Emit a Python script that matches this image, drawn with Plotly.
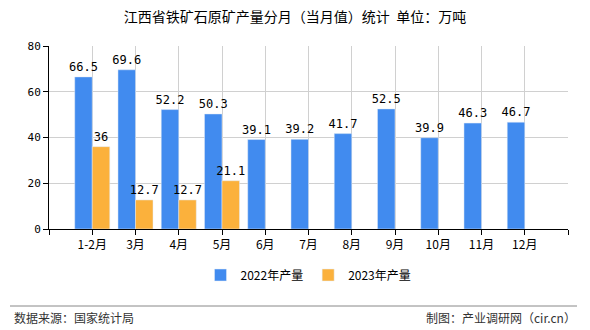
import plotly.graph_objects as go

categories = ["1-2月", "3月", "4月", "5月", "6月", "7月", "8月", "9月", "10月", "11月", "12月"]
y2022 = [66.5, 69.6, 52.2, 50.3, 39.1, 39.2, 41.7, 52.5, 39.9, 46.3, 46.7]
y2023 = [36, 12.7, 12.7, 21.1, None, None, None, None, None, None, None]
yticks = [0, 20, 40, 60, 80]

xs = list(range(len(categories)))
CJK = "Noto Sans CJK SC"
MONO = "DejaVu Sans Mono"

fig = go.Figure()
fig.add_trace(go.Bar(
    x=xs, y=y2022, name="2022年产量", marker_color="#418BEF",
    text=[f"{v:g}" for v in y2022], textposition="outside", constraintext="none",
    textfont=dict(family=MONO, size=12, color="#000"), cliponaxis=False,
))
fig.add_trace(go.Bar(
    x=xs, y=y2023, name="2023年产量", marker_color="#FBB13C",
    text=[f"{v:g}" if v is not None else "" for v in y2023], textposition="outside",
    constraintext="none",
    textfont=dict(family=MONO, size=12, color="#000"), cliponaxis=False,
))

fig.update_layout(
    width=590, height=330,
    margin=dict(l=49, r=22, t=46, b=101, autoexpand=False),
    paper_bgcolor="white", plot_bgcolor="white",
    barmode="group", bargap=0.19, bargroupgap=0,
    uniformtext=dict(mode=False),
    title=dict(text="江西省铁矿石原矿产量分月（当月值）统计  单位：万吨",
               x=0.5, xanchor="center", y=1 - 17 / 330, yanchor="middle",
               font=dict(family=CJK, size=14, color="#000")),
    showlegend=True,
    legend=dict(orientation="h", x=0.5, xanchor="center", yref="container",
                y=1 - 275 / 330, yanchor="middle",
                font=dict(family=CJK, size=12, color="#000"),
                itemwidth=30),
    xaxis=dict(
        range=[-1, 11], tickvals=[-1] + xs + [11], ticktext=[""] + categories + [""],
        showgrid=True, gridcolor="#D0D0D0", gridwidth=1,
        showline=True, linecolor="#000", linewidth=1,
        ticks="outside", ticklen=5, tickcolor="#000",
        tickfont=dict(family=CJK, size=12, color="#000"),
        zeroline=False, fixedrange=True, automargin=False,
    ),
    yaxis=dict(
        range=[0, 80], tickvals=yticks,
        showgrid=True, gridcolor="#D0D0D0", gridwidth=1,
        showline=True, linecolor="#000", linewidth=1,
        ticks="outside", ticklen=5, tickcolor="#000",
        tickfont=dict(family=MONO, size=11, color="#000"),
        zeroline=False, automargin=False,
    ),
    font=dict(family=CJK),
)

fig.add_shape(type="line", xref="paper", yref="paper",
              x0=(10 - 49) / 519, x1=(577 - 49) / 519,
              y0=(229 - 306) / 183, y1=(229 - 306) / 183,
              line=dict(color="#888", width=1))

fig.add_annotation(text="数据来源：国家统计局", xref="paper", yref="paper",
                   x=(12 - 49) / 519, xanchor="left", y=(229 - 317) / 183, yanchor="middle",
                   showarrow=False, font=dict(family=CJK, size=12, color="#333"))
fig.add_annotation(text="制图：产业调研网（cir.cn）", xref="paper", yref="paper",
                   x=(578 - 49) / 519, xanchor="right", y=(229 - 317) / 183, yanchor="middle",
                   showarrow=False, font=dict(family=CJK, size=12, color="#333"))

fig.write_html("out.html")
